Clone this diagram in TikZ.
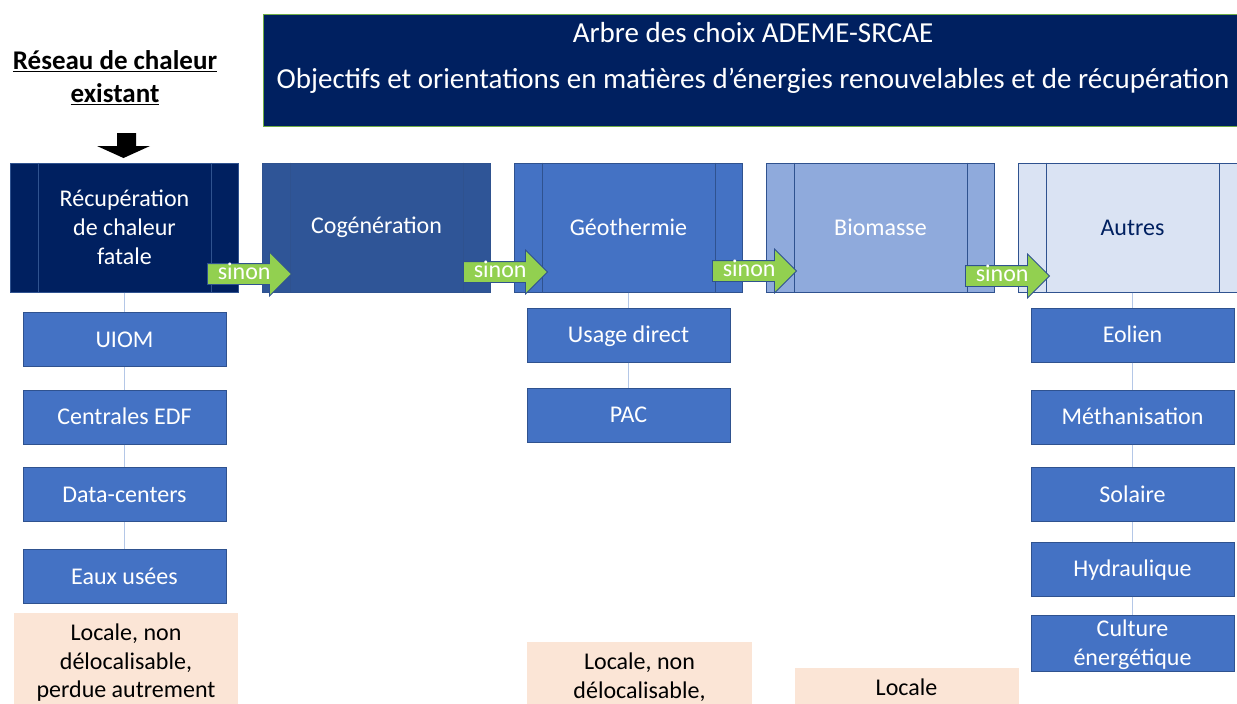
\documentclass[tikz,border=0pt]{standalone}
\usepackage{fontspec}
\setmainfont{Carlito}
\usetikzlibrary{shapes.arrows}

\definecolor{navy}{HTML}{002060}
\definecolor{bleuA}{HTML}{2F5597}
\definecolor{bleuB}{HTML}{4472C4}
\definecolor{bleuC}{HTML}{8FAADC}
\definecolor{bleuD}{HTML}{DAE3F3}
\definecolor{trait}{HTML}{2F528F}
\definecolor{lien}{HTML}{B4C7E7}
\definecolor{vert}{HTML}{92D050}
\definecolor{peche}{HTML}{FBE5D6}
\definecolor{bordvert}{HTML}{70AD47}

\newcommand{\txt}{\fontsize{24}{29}\selectfont}

\tikzset{
  choix/.style={draw=trait, line width=1pt, minimum width=228, minimum height=129,
    inner sep=0pt, text=white, align=center, font=\txt},
  sous/.style={draw=trait, fill=bleuB, line width=1pt, minimum width=203, minimum height=54,
    inner sep=0pt, text height=17, text depth=1.5, text=white, align=center, font=\txt},
  sinon/.style={single arrow, single arrow head extend=11.5, minimum height=84,
    fill=vert, draw=trait, line width=0.8pt, text=white, font=\txt,
    text height=11, text depth=0, inner xsep=2, inner ysep=4.5, anchor=tip},
  pechebox/.style={fill=peche, anchor=north, inner xsep=0pt, inner ysep=11,
    text depth=100, align=center, font=\fontsize{24}{28.5}\selectfont},
  liaison/.style={draw=lien, line width=1.3pt}
}

\begin{document}
\begin{tikzpicture}[x=1pt, y=-1pt]
    \useasboundingbox (0,0) rectangle (1237,704);
    \clip (0,0) rectangle (1237,704);

    % titre
    \node[fill=navy, draw=bordvert, line width=1pt, anchor=north, minimum width=980,
          inner xsep=0pt, inner ysep=8, text depth=30,
          text=white, align=center, font=\fontsize{29}{35}\selectfont] (titre) at (753,14)
          {Arbre des choix ADEME-SRCAE\\[11pt]Objectifs et orientations en matières d’énergies renouvelables et de récupération};

    \node[font=\bfseries\fontsize{27}{33}\selectfont, align=center] (reseau) at (115,78)
          {\underline{Réseau de chaleur}\\\underline{existant}};
    \fill (117,133) -- (136,133) -- (136,146) -- (150,146) -- (123.5,158) -- (97,146) -- (117,146) -- cycle;

    % choix
    \node[choix, fill=navy]  (recup)  at (124.5,227.5) {Récupération\\de chaleur\\fatale};
    \node[choix, fill=bleuA] (cogen)  at (376.5,227.5) {Cogénération};
    \node[choix, fill=bleuB] (geo)    at (628.5,227.5) {Géothermie};
    \node[choix, fill=bleuC] (bio)    at (880.5,227.5) {Biomasse};
    \node[choix, fill=bleuD, text=navy] (autres) at (1132.5,227.5) {Autres};
    \foreach \b in {recup,cogen,geo,bio,autres} {
        \draw[trait] ([xshift=28]\b.north west) -- ([xshift=28]\b.south west);
        \draw[trait] ([xshift=-28]\b.north east) -- ([xshift=-28]\b.south east);
    }

    % sous-choix
    \node[sous] (uiom)    at (124.5,339.5) {UIOM};
    \node[sous] (edf)     at (124.5,417)   {Centrales EDF};
    \node[sous] (data)    at (124.5,494.5) {Data-centers};
    \node[sous] (eaux)    at (124.5,576.5) {Eaux usées};
    \node[sous] (usage)   at (628.5,335)   {Usage direct};
    \node[sous] (pac)     at (628.5,415)   {PAC};
    \node[sous] (eolien)  at (1132.5,335)  {Eolien};
    \node[sous] (metha)   at (1132.5,417)  {Méthanisation};
    \node[sous] (solaire) at (1132.5,494.5) {Solaire};
    \node[sous] (hydro)   at (1132.5,569)  {Hydraulique};
    \node[sous, text height=50, text depth=6] (culture) at (1132.5,643) {Culture\\énergétique};
    \foreach \a/\b in {recup/uiom,uiom/edf,edf/data,data/eaux,geo/usage,usage/pac,
                       autres/eolien,eolien/metha,metha/solaire,solaire/hydro,hydro/culture}
        \draw[liaison] (\a) -- (\b);

    % sinon
    \node[sinon] (s1) at (292,274)  {sinon};
    \node[sinon] (s2) at (548,272)  {sinon};
    \node[sinon] (s3) at (797,271)  {sinon};
    \node[sinon] (s4) at (1050,276) {sinon};

    % portee
    \node[pechebox, minimum width=224] (loc1) at (126,613)   {Locale, non\\délocalisable,\\perdue autrement};
    \node[pechebox, minimum width=225] (loc2) at (639.5,642) {Locale, non\\délocalisable,};
    \node[pechebox, minimum width=224] (loc3) at (906.5,668) {Locale};
\end{tikzpicture}
\end{document}
